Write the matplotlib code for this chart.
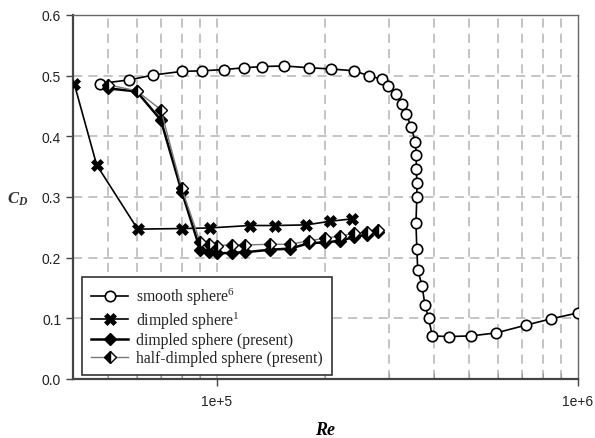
import math
import matplotlib
matplotlib.use("Agg")
import matplotlib.pyplot as plt
from matplotlib.ticker import FixedLocator, FuncFormatter, NullFormatter

# drag coefficient vs Reynolds number
smooth_re = [47500, 57300, 66600, 80000, 90900, 104800, 118900, 133600, 153800,
             180200, 207800, 239800, 263100, 286800, 298500, 313600, 326000,
             334200, 345100, 354800, 356400, 357000, 358000, 358000, 356000,
             358000, 360000, 370000, 377000, 386000, 395000, 439000, 505000,
             594000, 720000, 840000, 1000000]
smooth_cd = [0.487, 0.493, 0.501, 0.507, 0.508, 0.510, 0.513, 0.515, 0.516,
             0.513, 0.511, 0.508, 0.500, 0.494, 0.483, 0.469, 0.454,
             0.437, 0.416, 0.390, 0.370, 0.346, 0.323, 0.300, 0.257,
             0.215, 0.180, 0.154, 0.122, 0.100, 0.071, 0.070, 0.071,
             0.076, 0.089, 0.099, 0.109]

dimpled_ref_re = [40300, 46500, 60400, 80000, 95800, 123500, 145000, 177000, 206000, 237000]
dimpled_ref_cd = [0.487, 0.353, 0.247, 0.248, 0.249, 0.253, 0.253, 0.254, 0.260, 0.264]

present_re = [50000, 60000, 70000, 80000, 90000, 95000, 100000, 110000, 120000,
              140000, 160000, 180000, 200000, 220000, 240000, 260000, 280000]
dimpled_cd = [0.479, 0.474, 0.427, 0.309, 0.213, 0.209, 0.207, 0.208, 0.209,
              0.213, 0.215, 0.224, 0.225, 0.228, 0.234, 0.238, 0.242]
half_cd = [0.485, 0.475, 0.444, 0.314, 0.225, 0.222, 0.220, 0.221, 0.221,
           0.222, 0.222, 0.228, 0.232, 0.236, 0.240, 0.242, 0.246]

y_ticks = [0.0, 0.1, 0.2, 0.3, 0.4, 0.5, 0.6]
x_major = [1e5, 1e6]
x_minor = [5e4, 6e4, 7e4, 8e4, 9e4, 1e5, 2e5, 3e5, 4e5, 5e5, 6e5, 7e5, 8e5, 9e5]

plt.rcParams["font.family"] = "Liberation Sans"
plt.rcParams["mathtext.fontset"] = "custom"
plt.rcParams["mathtext.rm"] = "Liberation Serif"
plt.rcParams["mathtext.it"] = "Liberation Serif:italic:bold"
plt.rcParams["mathtext.bf"] = "Liberation Serif:italic:bold"

fig = plt.figure(figsize=(5.95, 4.39), dpi=100)
ax = fig.add_axes([0.1227, 0.1344, 0.8487, 0.8292])

ax.plot(smooth_re, smooth_cd, color="black", lw=1.2, marker="o", ms=7.5,
        mfc="white", mec="black", mew=1.2, label="smooth sphere$^{6}$", zorder=4)
ax.plot(dimpled_ref_re, dimpled_ref_cd, color="black", lw=1.2, marker="X", ms=8,
        mfc="black", mec="black", mew=0.5, label="dimpled sphere$^{1}$", zorder=4)
ax.plot(present_re, dimpled_cd, color="black", lw=1.8, marker="D", ms=6.5,
        mfc="black", mec="black", label="dimpled sphere (present)", zorder=5)
ax.plot(present_re, half_cd, color="#777777", lw=1.0, marker="D", ms=6.5,
        fillstyle="left", mfc="black", mfcalt="white", mec="black", mew=1.0,
        label="half-dimpled sphere (present)", zorder=5)

ax.set_xscale("log")
ax.set_xlim(4e4, 1e6)
ax.set_ylim(0, 0.6)

ax.xaxis.set_major_locator(FixedLocator(x_major))
ax.xaxis.set_major_formatter(FuncFormatter(lambda v, p: "1e+%d" % round(math.log10(v))))
ax.xaxis.set_minor_locator(FixedLocator(x_minor))
ax.xaxis.set_minor_formatter(NullFormatter())
ax.set_yticks(y_ticks)
ax.set_yticklabels(["%.1f" % v for v in y_ticks])

# dashed grid at the minor decades and the inner y ticks
for xv in x_minor:
    ax.axvline(xv, color="#b4b4b4", lw=1.1, ls=(0, (6, 4)), zorder=1)
for yv in y_ticks[1:-1]:
    ax.axhline(yv, color="#b4b4b4", lw=1.1, ls=(0, (6, 4)), zorder=1)

ax.tick_params(axis="both", which="major", direction="out", length=5, width=1,
               color="#444444", labelsize=10, labelcolor="#222222")
ax.tick_params(axis="x", which="minor", direction="in", length=4, width=0.8,
               color="#999999")
ax.tick_params(axis="x", which="major", pad=6)

for side in ["left", "bottom"]:
    ax.spines[side].set_linewidth(1.6)
    ax.spines[side].set_color("#444444")
for side in ["top", "right"]:
    ax.spines[side].set_linewidth(1.0)
    ax.spines[side].set_color("#666666")

leg = ax.legend(loc="lower left", bbox_to_anchor=(0.018, 0.011), borderaxespad=0,
                prop={"family": "Liberation Serif", "size": 11.3}, fancybox=False,
                edgecolor="#333333", framealpha=1, handlelength=2.4,
                handletextpad=0.5, labelspacing=0.12, borderpad=0.55)
leg.get_frame().set_linewidth(1.2)
leg.set_zorder(6)
for t in leg.get_texts():
    t.set_color("#222222")

ax.set_xlabel("Re", fontfamily="Liberation Serif", fontweight="bold",
              fontstyle="italic", fontsize=13, labelpad=9)
fig.text(0.012, 0.545, "$C_D$", fontsize=12, color="#333333", ha="left", va="center")

fig.savefig("out.png", dpi=100)
